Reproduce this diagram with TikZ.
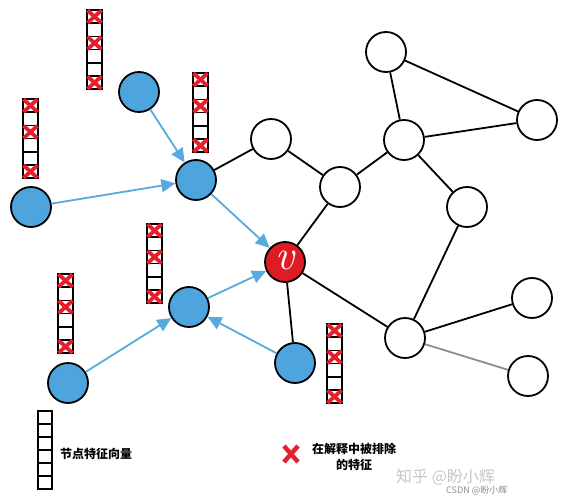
\documentclass[tikz,border=0pt]{standalone}
\usepackage{fontspec}
\newfontfamily\cjk{Noto Sans CJK SC}
\usetikzlibrary{arrows.meta}
\definecolor{nblue}{RGB}{78,165,222}
\definecolor{ablue}{RGB}{88,170,222}
\definecolor{vred}{RGB}{222,28,36}
\definecolor{xred}{RGB}{232,30,42}
\tikzset{
 bnode/.style={circle,draw=black,fill=nblue,line width=1.8pt,minimum size=40pt,inner sep=0pt},
 wnode/.style={circle,draw=black,fill=white,line width=1.8pt,minimum size=40pt,inner sep=0pt},
 vnode/.style={circle,draw=black,fill=vred,line width=1.8pt,minimum size=40pt,inner sep=0pt,text=white,font=\fontsize{42}{42}\selectfont\itshape},
 edge/.style={line width=1.8pt,black},
 msg/.style={line width=1.8pt,ablue,-{Triangle[length=14pt,width=13pt]}},
 cell/.style={draw=black,line width=1.5pt},
 xmark/.style={xred,line width=3.8pt},
 fstack/.pic={
   \foreach \i in {0,...,5}{\draw[cell] (0,-13.2*\i) rectangle (15,-13.2*\i-13.2);}
   \foreach \i in {0,2,5}{
     \draw[xmark] (0.5,-13.2*\i-0.3) -- (14.5,-13.2*\i-12.9);
     \draw[xmark] (14.5,-13.2*\i-0.3) -- (0.5,-13.2*\i-12.9);}
 },
 estack/.pic={
   \foreach \i in {0,...,5}{\draw[cell] (0,-13*\i) rectangle (14,-13*\i-13);}
 },
}
\begin{document}
\begin{tikzpicture}[x=1pt,y=1pt]
\useasboundingbox (0,0) rectangle (567,-500);
% feature stacks
\pic at (87,-10) {fstack};
\pic at (193,-73) {fstack};
\pic at (23,-99) {fstack};
\pic at (147,-224) {fstack};
\pic at (58,-274) {fstack};
\pic at (327,-324) {fstack};
% nodes
\node[bnode] (b1) at (139,-92) {};
\node[bnode] (b2) at (196,-180) {};
\node[bnode] (b3) at (31,-207) {};
\node[bnode] (b4) at (189,-307) {};
\node[bnode] (b5) at (68,-383) {};
\node[bnode] (b6) at (295,-363) {};
\node[vnode] (v) at (285,-262) {\raisebox{3pt}{v}};
\node[wnode] (w1) at (271,-139) {};
\node[wnode] (w2) at (340,-187) {};
\node[wnode] (w3) at (386,-52) {};
\node[wnode] (w4) at (404,-140) {};
\node[wnode] (w5) at (537,-120) {};
\node[wnode] (w6) at (467,-207) {};
\node[wnode] (w7) at (405,-338) {};
\node[wnode] (w8) at (532,-298) {};
\node[wnode] (w9) at (528,-376) {};
% edges
\draw[edge] (b2) -- (w1);
\draw[edge] (w1) -- (w2);
\draw[edge] (w2) -- (v);
\draw[edge] (w2) -- (w4);
\draw[edge] (w4) -- (w3);
\draw[edge] (w3) -- (w5);
\draw[edge] (w4) -- (w5);
\draw[edge] (w4) -- (w6);
\draw[edge] (w6) -- (w7);
\draw[edge] (v) -- (w7);
\draw[edge] (v) -- (b6);
\draw[edge] (w7) -- (w8);
\draw[line width=1.8pt,black!45] (w7) -- (w9);
% messages
\draw[msg] (b1) -- (b2);
\draw[msg] (b3) -- (b2);
\draw[msg] (b2) -- (v);
\draw[msg] (b4) -- (v);
\draw[msg] (b5) -- (b4);
\draw[msg] (b6) -- (b4);
% legend
\pic at (38,-411) {estack};
\node[font=\cjk\bfseries\fontsize{12}{14}\selectfont] (lg1) at (96,-454) {节点特征向量};
\coordinate (xc) at (291,-454);
\draw[xred,line width=4.5pt] ([shift={(-7,8)}]xc) -- ([shift={(7,-8)}]xc);
\draw[xred,line width=4.5pt] ([shift={(7,8)}]xc) -- ([shift={(-7,-8)}]xc);
\node[font=\cjk\bfseries\fontsize{12}{16}\selectfont,align=center] (lg2) at (354,-457) {在解释中被排除\\的特征};
% watermark
\node[font=\cjk\fontsize{16}{16}\selectfont,text=black!22,anchor=west,inner sep=0pt] (wm1) at (396,-477) {知乎 @盼小辉};
\node[font=\cjk\fontsize{9}{9}\selectfont,text=black!45,anchor=west,inner sep=0pt] (wm2) at (446,-491) {CSDN @盼小辉};
\end{tikzpicture}
\end{document}
